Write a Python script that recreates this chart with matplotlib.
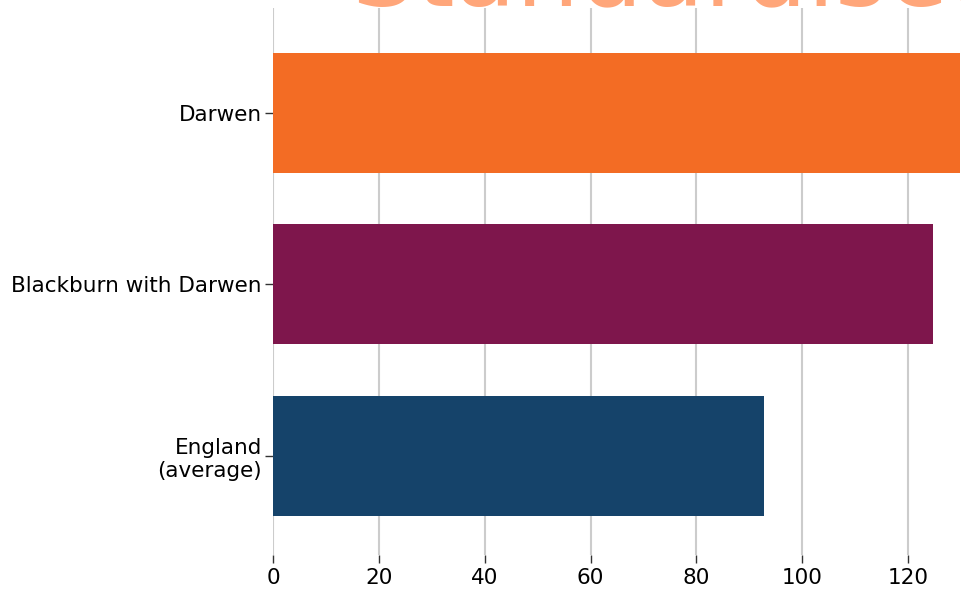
import matplotlib
matplotlib.use('Agg')
from matplotlib import pyplot as plt

# values
areas = ['Darwen', 'Blackburn with Darwen', 'England\n(average)']
values = [129.8, 124.7, 92.7]
colours = ['#F36C24', '#7E164C', '#15436A']
ticks = [0, 20, 40, 60, 80, 100, 120]
title = 'Standardised admission ratio'

plt.rcParams['font.family'] = ['DejaVu Sans']
fig = plt.figure(figsize=(9.61, 5.9), dpi=100)
ax = fig.add_axes([273/961, 1-555/590, (961-273)/961, (555-8)/590])

ypos = list(range(len(areas)))
ax.barh(ypos, values, height=0.7, color=colours, zorder=3)
ax.set_yticks(ypos)
ax.set_yticklabels(areas, fontsize=15.5)
ax.set_ylim(2.58, -0.61)
ax.set_xlim(0, 130)
ax.set_xticks(ticks)
ax.set_xticklabels([str(t) for t in ticks], fontsize=15.5)
ax.xaxis.grid(True, color='#CCCCCC', linewidth=1.5, zorder=0)
ax.tick_params(axis='both', length=6, width=1, color='#333333')
ax.tick_params(axis='y', pad=2)
for s in ax.spines.values():
    s.set_visible(False)

# the big title sits above the canvas, only its foot shows
fig.text(352/961, 1-5/590, title, fontsize=72, color='#FFA67A', ha='left', va='baseline')

fig.savefig('out.png', dpi=100)
